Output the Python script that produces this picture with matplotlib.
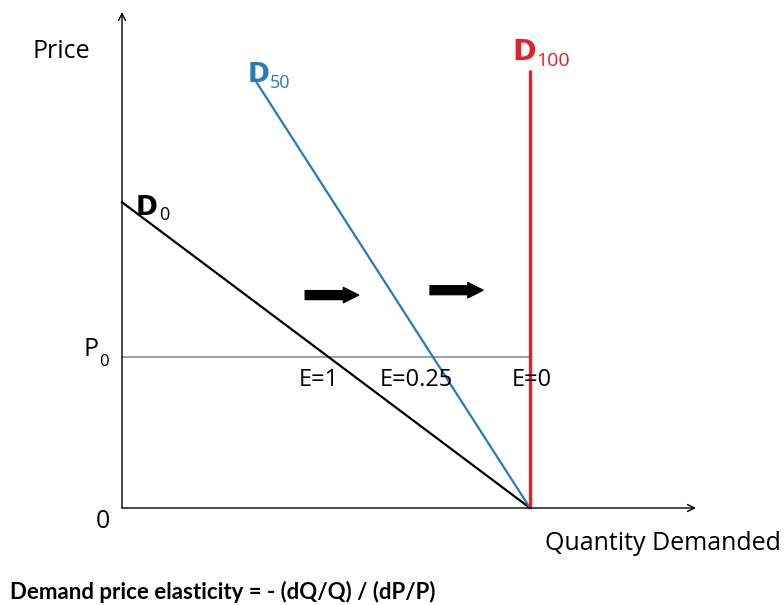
import matplotlib
matplotlib.use("Agg")
import matplotlib.pyplot as plt

# ---- data (quantity, price units) ----
p0 = 4.0
q_star = 10.0
d0_q = [0.0, 10.0]
d0_p = [8.1, 0.0]
d50_q = [3.26, 10.0]
d50_p = [11.34, 0.0]
d100_q = [10.0, 10.0]
d100_p = [0.0, 11.6]
p0_line_q = [0.0, 10.0]
elasticity_labels = ["E=1", "E=0.25", "E=0"]
shift_arrows = [((4.49, 5.64), (5.80, 5.64)), ((7.55, 5.77), (8.85, 5.77))]

# ---- figure geometry: origin at pixel (122, 508) ----
W, H = 784, 605
OX, OY = 122, 508
SX, SY = 40.8, 37.75

def px(x, y):
    return (x - OX) / SX, (OY - y) / SY

fig = plt.figure(figsize=(W / 100, H / 100), dpi=100)
ax = fig.add_axes([0, 0, 1, 1])
ax.set_xlim(-OX / SX, (W - OX) / SX)
ax.set_ylim(-(H - OY) / SY, OY / SY)
ax.axis("off")

FONT = "Open Sans"

# axes with arrows
ax.annotate("", xy=(0, px(0, 12)[1]), xytext=(0, 0),
            arrowprops=dict(arrowstyle="->,head_width=0.25,head_length=0.5",
                            color="black", lw=1.0, shrinkA=0, shrinkB=0))
ax.annotate("", xy=(px(696, 0)[0], 0), xytext=(0, 0),
            arrowprops=dict(arrowstyle="->,head_width=0.25,head_length=0.5",
                            color="black", lw=1.0, shrinkA=0, shrinkB=0))

# P0 line
ax.plot(p0_line_q, [p0, p0], color="#8c8c8c", lw=1.2, solid_capstyle="butt")

# demand curves
ax.plot(d0_q, d0_p, color="black", lw=1.6)
ax.plot(d50_q, d50_p, color="#2a7ab8", lw=1.6)
ax.plot(d100_q, d100_p, color="#e3202a", lw=2.4, solid_capstyle="butt")

# shift arrows
for start, end in shift_arrows:
    ax.annotate("", xy=end, xytext=start,
                arrowprops=dict(arrowstyle="simple,head_width=0.55,head_length=0.55,tail_width=0.32",
                                color="black", mutation_scale=20, shrinkA=0, shrinkB=0))

# labels
ax.text(*px(33, 52), "Price", fontsize=18, family=FONT, va="center", ha="left")
ax.text(*px(110, 522), "0", fontsize=18, family=FONT, va="center", ha="right")
ax.text(*px(84, 356), "P", fontsize=18, family=FONT, va="baseline", ha="left")
ax.text(*px(99, 366), "0", fontsize=12, family=FONT, va="baseline", ha="left")
ax.text(*px(545, 543), "Quantity Demanded", fontsize=18, family=FONT, va="center", ha="left")
ax.text(*px(10, 592), "Demand price elasticity = - (dQ/Q) / (dP/P)", fontsize=16,
        family="Lato", fontweight="bold", va="center", ha="left")

# curve labels
ax.text(*px(136, 215), "D", fontsize=19, family="DejaVu Sans", fontweight="bold", va="baseline")
ax.text(*px(159, 220), "0", fontsize=13, family=FONT, va="baseline")
ax.text(*px(248, 82), "D", fontsize=19, family="DejaVu Sans", fontweight="bold", va="baseline", color="#2a7ab8")
ax.text(*px(270, 88), "50", fontsize=13, family=FONT, va="baseline", color="#2a7ab8")
ax.text(*px(512, 60), "D", fontsize=20.5, family="DejaVu Sans", fontweight="bold", va="baseline", color="#e3202a")
ax.text(*px(536, 66), "100", fontsize=14, family=FONT, va="baseline", color="#e3202a")

# elasticity labels
label_x_px = [299, 380, 512]
for lab, xp in zip(elasticity_labels, label_x_px):
    ax.text(*px(xp, 386), lab, fontsize=17, family=FONT, va="baseline", ha="left")

fig.savefig("out.png", dpi=100)
